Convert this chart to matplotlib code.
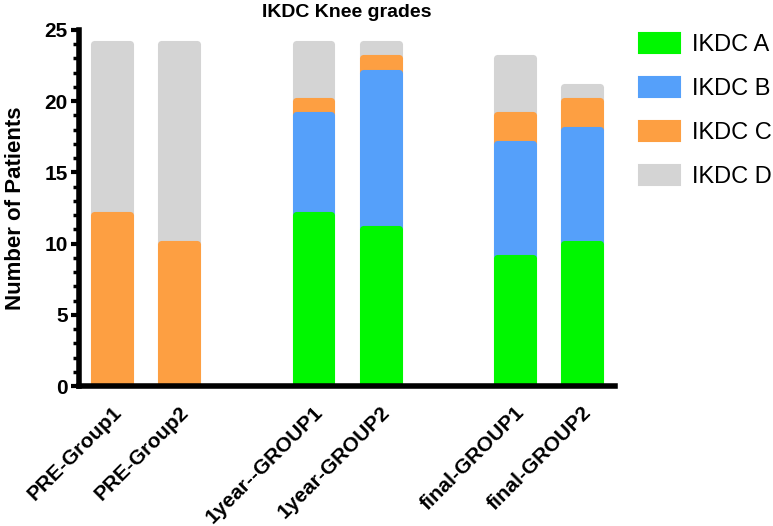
import matplotlib
matplotlib.use('Agg')
import matplotlib.pyplot as plt
import matplotlib.ticker as ticker
from matplotlib.patches import Patch
import numpy as np

# Data
categories = ['PRE-Group1', 'PRE-Group2', '1year--GROUP1', '1year-GROUP2',
              'final-GROUP1', 'final-GROUP2']
positions = [0, 1, 3, 4, 6, 7]
grade_a = [0, 0, 12, 11, 9, 10]
grade_b = [0, 0, 7, 11, 8, 8]
grade_c = [12, 10, 1, 1, 2, 2]
grade_d = [12, 14, 4, 1, 4, 1]
series = [('IKDC A', grade_a, '#00f700'),
          ('IKDC B', grade_b, '#55a0fa'),
          ('IKDC C', grade_c, '#fd9f42'),
          ('IKDC D', grade_d, '#d4d4d4')]

plt.rcParams['font.family'] = ['Liberation Sans', 'DejaVu Sans']

fig = plt.figure(figsize=(7.73, 5.26), dpi=100)
ax = fig.add_axes([0.102, 0.266, 0.694, 0.677])

bottom = np.zeros(len(categories))
handles = []
for i, (name, vals, color) in enumerate(series):
    vals = np.array(vals, dtype=float)
    # thick rounded edge in the fill colour gives the Prism-style rounded caps;
    # lower segments drawn on top so each one's cap overlaps the next
    bars = ax.bar(positions, vals, width=0.535, bottom=bottom, color=color,
                  edgecolor=color, linewidth=5.1, joinstyle='round', zorder=6 - i)
    for b, v in zip(bars, vals):
        if v == 0:
            b.set_visible(False)
    handles.append(Patch(facecolor=color, edgecolor=color, linewidth=1.5,
                         joinstyle='round', label=name))
    bottom += vals

ax.set_xlim(-0.5, 7.5)
ax.set_ylim(0, 25)
ax.set_xticks(positions)
ax.set_xticklabels(categories, rotation=45, ha='right', rotation_mode='anchor',
                   fontsize=15, fontweight='bold')
ax.tick_params(axis='x', length=0, pad=12)
ax.yaxis.set_major_locator(ticker.MultipleLocator(5))
ax.yaxis.set_minor_locator(ticker.MultipleLocator(1))
ax.tick_params(axis='y', which='major', length=6, width=3, labelsize=15, pad=2)
ax.tick_params(axis='y', which='minor', length=4, width=2.5)
for lbl in ax.get_yticklabels():
    lbl.set_fontweight('bold')

for side in ['top', 'right']:
    ax.spines[side].set_visible(False)
for side in ['left', 'bottom']:
    ax.spines[side].set_linewidth(4)
    ax.spines[side].set_zorder(10)

ax.set_ylabel('Number of Patients', fontsize=16, fontweight='bold', labelpad=13)
ax.set_title('IKDC Knee grades', fontsize=14, fontweight='bold', pad=9)

ax.legend(handles=handles, loc='upper left', bbox_to_anchor=(1.005, 1.051),
          frameon=False, fontsize=17, handlelength=1.72, handleheight=0.95,
          labelspacing=0.87, handletextpad=0.5)

plt.savefig('out.png', dpi=100)
